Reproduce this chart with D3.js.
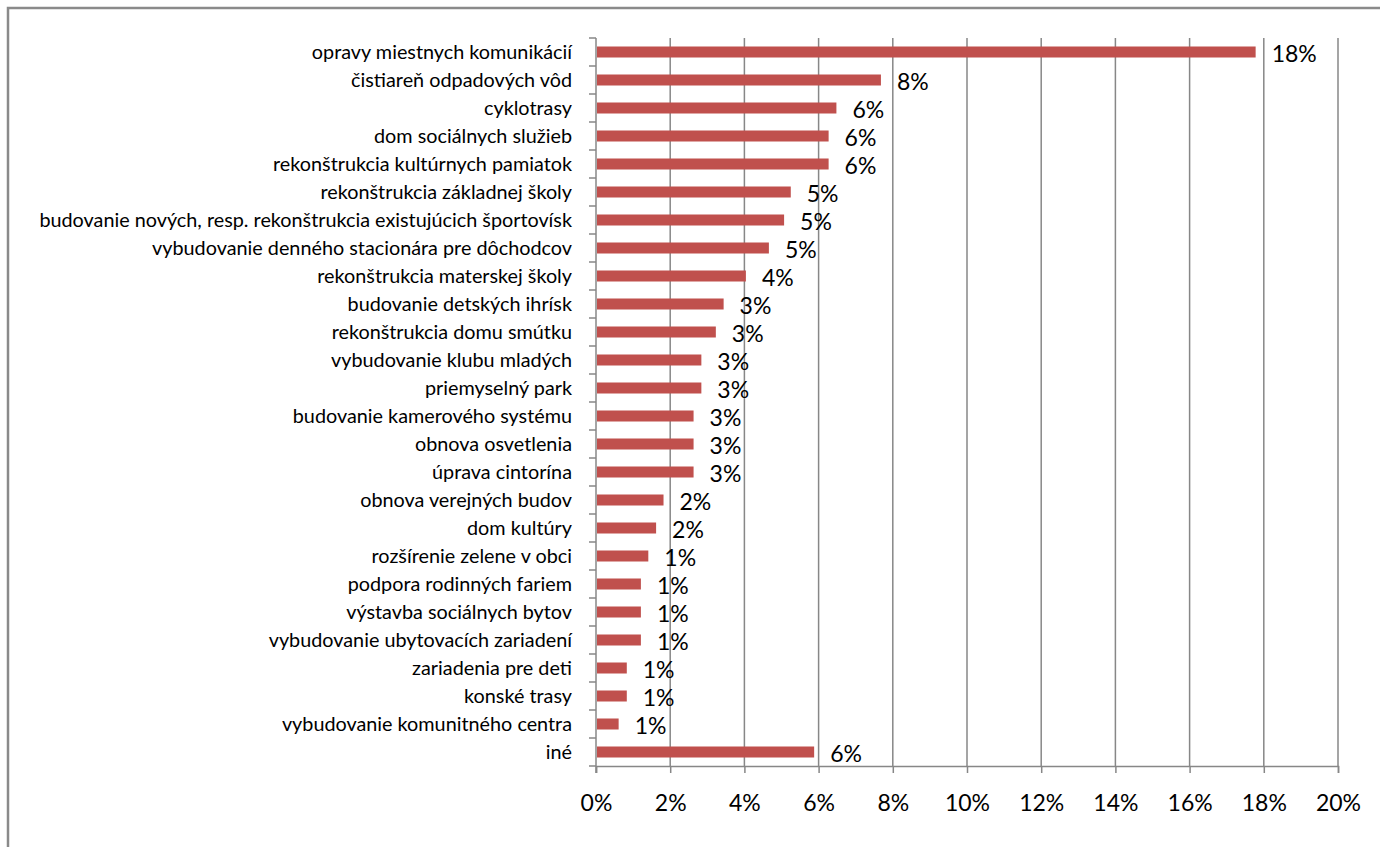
<!DOCTYPE html>
<html>
<head>
<meta charset="utf-8">
<script src="https://cdn.jsdelivr.net/npm/d3@7"></script>
<style>
  html, body { margin: 0; padding: 0; background: #fff; }
  svg { display: block; }
</style>
</head>
<body>
<svg id="chart" width="1380" height="847"></svg>
<script>
const categories = [
  "opravy miestnych komunikácií",
  "čistiareň odpadových vôd",
  "cyklotrasy",
  "dom sociálnych služieb",
  "rekonštrukcia kultúrnych pamiatok",
  "rekonštrukcia základnej školy",
  "budovanie nových, resp. rekonštrukcia existujúcich športovísk",
  "vybudovanie denného stacionára pre dôchodcov",
  "rekonštrukcia materskej školy",
  "budovanie detských ihrísk",
  "rekonštrukcia domu smútku",
  "vybudovanie klubu mladých",
  "priemyselný park",
  "budovanie kamerového systému",
  "obnova osvetlenia",
  "úprava cintorína",
  "obnova verejných budov",
  "dom kultúry",
  "rozšírenie zelene v obci",
  "podpora rodinných fariem",
  "výstavba sociálnych bytov",
  "vybudovanie ubytovacích zariadení",
  "zariadenia pre deti",
  "konské trasy",
  "vybudovanie komunitného centra",
  "iné"
];
const values = [
  17.78, 7.68, 6.48, 6.27, 6.27, 5.25, 5.07, 4.66, 4.04, 3.44, 3.23, 2.84, 2.84,
  2.63, 2.63, 2.63, 1.82, 1.62, 1.41, 1.21, 1.21, 1.21, 0.83, 0.83, 0.61, 5.88
];
const xTicks = [0, 2, 4, 6, 8, 10, 12, 14, 16, 18, 20];

(function draw() {
  const svg = d3.select("#chart");
  const pLeft = 596, pRight = 1338, pTop = 38, pBottom = 766;
  const gridColor = "#878787";
  const barColor = "#C0504D";
  const font = "Lato, 'Open Sans', sans-serif";

  // chart frame
  svg.append("rect")
    .attr("x", 8).attr("y", 8).attr("width", 1400).attr("height", 900)
    .attr("fill", "#fff").attr("stroke", "#8a8a8a").attr("stroke-width", 2.5);

  const x = d3.scaleLinear().domain([0, 20]).range([pLeft, pRight]);
  const y = d3.scaleBand().domain(categories).range([pTop, pBottom]).padding(0);

  // gridlines
  svg.append("g").selectAll("line").data(xTicks.slice(1)).join("line")
    .attr("x1", d => x(d)).attr("x2", d => x(d))
    .attr("y1", pTop).attr("y2", pBottom)
    .attr("stroke", gridColor).attr("stroke-width", 1.5);

  // x axis
  const xAxis = d3.axisBottom(x).tickValues(xTicks).tickFormat(d => d + "%").tickSize(7).tickPadding(22);
  const gx = svg.append("g").attr("transform", `translate(0,${pBottom})`).call(xAxis);
  gx.select(".domain").attr("stroke", gridColor).attr("stroke-width", 1.5);
  gx.selectAll(".tick line").attr("stroke", gridColor).attr("stroke-width", 1.5);
  gx.selectAll(".tick text").attr("font-family", font).attr("font-size", 23).attr("fill", "#000");

  // y axis: ticks at band boundaries
  const yBoundaries = d3.range(categories.length + 1).map(i => pTop + i * y.step());
  svg.append("g").selectAll("line").data(yBoundaries).join("line")
    .attr("x1", pLeft - 7).attr("x2", pLeft)
    .attr("y1", d => d).attr("y2", d => d)
    .attr("stroke", gridColor).attr("stroke-width", 1.5);
  svg.append("line")
    .attr("x1", pLeft).attr("x2", pLeft).attr("y1", pTop).attr("y2", pBottom + 7)
    .attr("stroke", gridColor).attr("stroke-width", 1.5);

  // category labels
  const catLabels = svg.append("g").selectAll("text").data(categories).join("text")
    .attr("x", 572)
    .attr("y", d => y(d) + y.bandwidth() / 2)
    .attr("dy", "0.35em")
    .attr("text-anchor", "end")
    .attr("font-family", font)
    .attr("font-size", 16)
    .attr("fill", "#000")
    .text(d => d);
  let maxW = 0;
  catLabels.each(function() { maxW = Math.max(maxW, this.getComputedTextLength()); });
  const fs = 16 * 533 / maxW;
  catLabels.attr("font-size", fs.toFixed(2));

  // bars
  const barH = 11;
  svg.append("g").selectAll("rect").data(values).join("rect")
    .attr("x", x(0) + 1)
    .attr("y", (d, i) => y(categories[i]) + (y.bandwidth() - barH) / 2)
    .attr("width", d => x(d) - x(0) - 1)
    .attr("height", barH)
    .attr("fill", barColor);

  // value labels
  svg.append("g").selectAll("text").data(values).join("text")
    .attr("x", d => x(d) + 16)
    .attr("y", (d, i) => y(categories[i]) + y.bandwidth() / 2 + 10)
    .attr("font-family", font)
    .attr("font-size", 23)
    .attr("fill", "#000")
    .text(d => Math.round(d) + "%");
})();
</script>
</body>
</html>
